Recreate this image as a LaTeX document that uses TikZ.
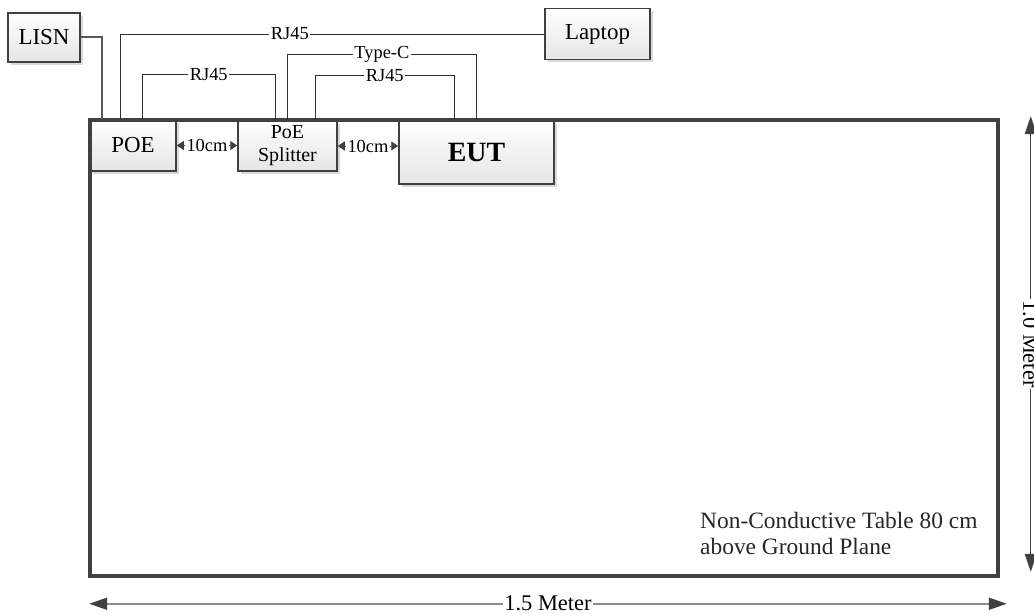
\documentclass[tikz,border=0pt]{standalone}
\usepackage{fontspec}
\setmainfont{Liberation Serif}
\usetikzlibrary{arrows.meta,shadows}

\definecolor{edgegray}{HTML}{404040}
\definecolor{wiregray}{HTML}{303030}
\definecolor{dimgray}{HTML}{8C8C8C}

\begin{document}
\begin{tikzpicture}[x=1bp, y=-1bp,
    box/.style={draw=edgegray, line width=1.5bp, top color=white, bottom color=black!10,
        drop shadow={shadow xshift=3bp, shadow yshift=-3bp, fill=black!15, opacity=1},
        inner sep=0pt, font=\fontsize{23}{26}\selectfont},
    wire/.style={draw=wiregray, line width=0.9bp},
    lbl/.style={fill=white, inner sep=1.5bp, font=\fontsize{18.5}{20}\selectfont},
    gap/.style={wire, {Triangle[length=7bp,width=9bp,color=edgegray]}-{Triangle[length=7bp,width=9bp,color=edgegray]}},
    dimlbl/.style={fill=white, inner sep=1.5bp, font=\fontsize{22.5}{24}\selectfont},
    meter/.style={{Triangle[length=18bp,width=12bp,color=edgegray]}-{Triangle[length=18bp,width=12bp,color=edgegray]}}
]
    \useasboundingbox (0,0) rectangle (1034,614);

    % Geraete
    \node[box, minimum width=72bp, minimum height=49bp] (lisn) at (44,37.5) {LISN};
    \node[box, minimum width=105bp, minimum height=51bp] (laptop) at (597.5,34) {Laptop};
    \node[box, minimum width=86bp, minimum height=51bp] (poe) at (133,145.5) {POE};
    \node[box, minimum width=99bp, minimum height=50bp, align=center,
        font=\fontsize{20}{23}\selectfont] (split) at (287.5,146) {PoE\\Splitter};
    \node[box, minimum width=155bp, minimum height=63bp,
        font=\fontsize{28}{30}\selectfont\bfseries] (eut) at (476.5,152.5) {EUT};

    % Tisch
    \node[draw=edgegray, line width=3.5bp, minimum width=908bp, minimum height=456bp,
        inner sep=0pt] (table) at (544,348) {};
    \node[anchor=west, align=left, inner sep=0pt, text=black!85,
        font=\fontsize{23.5}{27}\selectfont] (note) at (700,533.5)
        {Non-Conductive Table 80 cm\\above Ground Plane};

    % Kabel
    \draw[wire, draw=black!65, line width=2bp] (lisn.east) -| ([xshift=13bp]poe.north west);
    \draw[wire] ([xshift=31bp]poe.north west) |- node[lbl, pos=0.7]{RJ45} (laptop.west);
    \draw[wire] ([xshift=53bp]poe.north west) -- ++(0,-45)
        -| node[lbl, pos=0.25]{RJ45} ([xshift=38bp]split.north west);
    \draw[wire] ([xshift=50bp]split.north west) -- ++(0,-66)
        -| node[lbl, pos=0.25]{Type-C} (eut.north);
    \draw[wire] ([xshift=78bp]split.north west) -- ++(0,-45)
        -| node[lbl, pos=0.25]{RJ45} ([xshift=56bp]eut.north west);

    % Abstaende
    \draw[gap] (poe.east) -- node[lbl]{10cm} (poe.east -| split.west);
    \draw[gap] (split.east) -- node[lbl]{10cm} (split.east -| eut.west);

    % Masse
    \draw[draw=edgegray, line width=1bp, meter]
        ([xshift=31bp,yshift=2bp]table.north east)
        -- node[dimlbl, rotate=-90]{1.0 Meter} ([xshift=31bp,yshift=6bp]table.south east);
    \draw[draw=dimgray, line width=2bp, meter]
        ([xshift=1bp,yshift=-26bp]table.south west)
        -- node[dimlbl]{1.5 Meter} ([xshift=7bp,yshift=-26bp]table.south east);
\end{tikzpicture}
\end{document}
